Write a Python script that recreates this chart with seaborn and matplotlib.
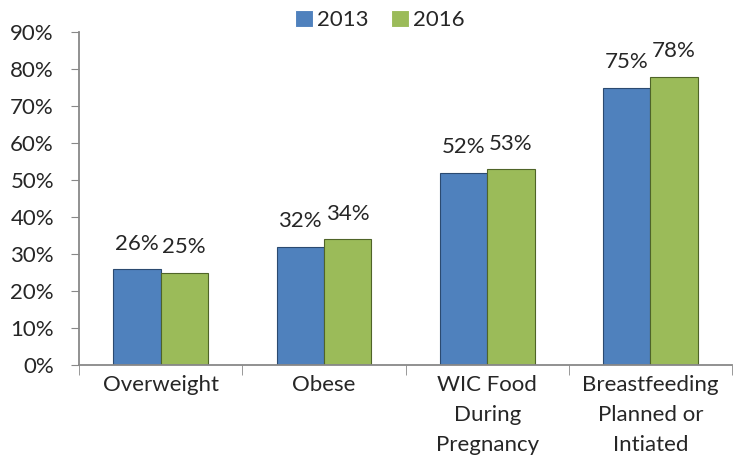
import matplotlib
matplotlib.use("Agg")
import matplotlib.pyplot as plt
import seaborn as sns
import pandas as pd

categories = ["Overweight", "Obese", "WIC Food\nDuring\nPregnancy", "Breastfeeding\nPlanned or\nIntiated"]
years = ["2013", "2016"]
vals_2013 = [26, 32, 52, 75]
vals_2016 = [25, 34, 53, 78]

df = pd.DataFrame({
    "category": categories * 2,
    "year": [years[0]] * 4 + [years[1]] * 4,
    "value": vals_2013 + vals_2016,
})

sns.set_style("white")
plt.rcParams["font.family"] = ["Lato", "DejaVu Sans"]
fs = 16

fig = plt.figure(figsize=(7.38, 4.74), dpi=100)
ax = fig.add_axes([0.107, 0.230, 0.885, 0.702])

palette = {"2013": "#4F81BD", "2016": "#9BBB59"}
sns.barplot(data=df, x="category", y="value", hue="year", palette=palette,
            width=0.58, gap=0, saturation=1, ax=ax, linewidth=0.8)

# darker edge per series, like the bevelled look
for cont, ec in zip(ax.containers, ["#2b4a70", "#4f6428"]):
    for bar in cont:
        bar.set_edgecolor(ec)
    ax.bar_label(cont, labels=[f"{v:.0f}%" for v in cont.datavalues],
                 padding=11, fontsize=fs)

ax.set_ylim(0, 90)
ax.set_xlim(-0.5, 3.5)
ax.set_yticks(range(0, 91, 10))
ax.set_yticklabels([f"{t}%" for t in range(0, 91, 10)], fontsize=fs)
ax.tick_params(axis="y", left=True, length=6, color="#888888", pad=12)
ax.set_xticklabels(categories, fontsize=fs, linespacing=1.6)
ax.tick_params(axis="x", bottom=False, pad=4)
ax.set_xticks([-0.5, 0.5, 1.5, 2.5, 3.5], minor=True)
ax.tick_params(axis="x", which="minor", bottom=True, length=7, color="#888888")
ax.set_xlabel("")
ax.set_ylabel("")

for s in ["top", "right"]:
    ax.spines[s].set_visible(False)
for s in ["left", "bottom"]:
    ax.spines[s].set_color("#888888")
    ax.spines[s].set_linewidth(1.3)

handles, labels = ax.get_legend_handles_labels()
ax.get_legend().remove()
fig.legend(handles, labels, loc="center", bbox_to_anchor=(0.515, 0.958), ncol=2,
           frameon=False, fontsize=fs, handlelength=0.8, handleheight=0.8,
           handletextpad=0.2, columnspacing=1.0)

fig.savefig("out.png", dpi=100)
